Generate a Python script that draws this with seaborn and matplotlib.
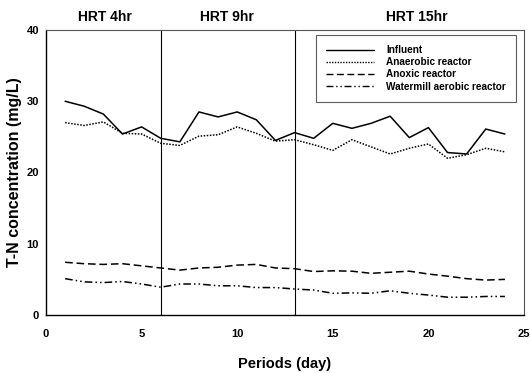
import numpy as np
import pandas as pd
import matplotlib
matplotlib.use("Agg")
import matplotlib.pyplot as plt
import seaborn as sns

days = list(range(1, 25))
influent = [30.0, 29.3, 28.2, 25.4, 26.4, 24.8, 24.3, 28.5, 27.8, 28.5, 27.4, 24.5,
            25.6, 24.8, 26.9, 26.2, 26.9, 27.9, 24.9, 26.3, 22.8, 22.6, 26.1, 25.4]
anaerobic = [27.0, 26.6, 27.1, 25.5, 25.4, 24.1, 23.8, 25.1, 25.3, 26.4, 25.5, 24.4,
             24.6, 23.9, 23.1, 24.6, 23.6, 22.6, 23.4, 24.0, 22.0, 22.5, 23.4, 22.9]
anoxic = [7.4, 7.2, 7.1, 7.2, 6.9, 6.6, 6.3, 6.6, 6.7, 7.0, 7.1, 6.6,
          6.5, 6.1, 6.2, 6.15, 5.85, 6.0, 6.15, 5.75, 5.45, 5.1, 4.9, 5.0]
watermill = [5.1, 4.65, 4.55, 4.7, 4.35, 3.9, 4.35, 4.35, 4.1, 4.1, 3.85, 3.85,
             3.65, 3.5, 3.05, 3.1, 3.05, 3.4, 3.05, 2.8, 2.5, 2.5, 2.6, 2.6]
series_names = ["Influent", "Anaerobic reactor", "Anoxic reactor", "Watermill aerobic reactor"]
phase_bounds = [6, 13]
phase_labels = ["HRT 4hr", "HRT 9hr", "HRT 15hr"]
phase_label_x = [3.1, 9.45, 19.4]

df = pd.DataFrame({
    "day": days * 4,
    "value": influent + anaerobic + anoxic + watermill,
    "series": sum([[n] * len(days) for n in series_names], []),
})

sns.set_style("white")
plt.rcParams["font.family"] = ["Liberation Sans", "DejaVu Sans"]
plt.rcParams["text.color"] = "black"
plt.rcParams["axes.labelcolor"] = "black"
plt.rcParams["xtick.color"] = "black"
plt.rcParams["ytick.color"] = "black"

fig = plt.figure(figsize=(5.30, 3.73), dpi=100)
ax = fig.add_axes([46 / 530, 1 - 315 / 373, (524 - 46) / 530, (315 - 30) / 373])

dashes = {
    "Influent": "",
    "Anaerobic reactor": (1, 1),
    "Anoxic reactor": (5, 2.5),
    "Watermill aerobic reactor": (5, 2, 1, 2, 1, 2),
}
sns.lineplot(data=df, x="day", y="value", hue="series", style="series",
             palette=["black"] * 4, dashes=dashes, ax=ax, linewidth=1.1,
             legend=False)

for b in phase_bounds:
    ax.axvline(b, color="black", linewidth=0.8)

ax.set_xlim(0, 25)
ax.set_ylim(0, 40)
ax.set_xticks([0, 5, 10, 15, 20, 25])
ax.set_yticks([0, 10, 20, 30, 40])
ax.tick_params(axis="both", direction="out", length=3, width=0.8, labelsize=8,
               colors="black", labelcolor="black", pad=2)
for lbl in ax.get_xticklabels() + ax.get_yticklabels():
    lbl.set_fontweight("bold")
ax.tick_params(axis="x", pad=7)

for side in ["left", "bottom"]:
    ax.spines[side].set_color("black")
    ax.spines[side].set_linewidth(1.0)
for side in ["top", "right"]:
    ax.spines[side].set_color("#555555")
    ax.spines[side].set_linewidth(0.8)
    ax.spines[side].set_linestyle((0, (2, 1)))

ax.set_xlabel("Periods (day)", fontsize=10.5, fontweight="bold", labelpad=13, color="black")
ax.set_ylabel("T-N concentration (mg/L)", fontsize=11.5, fontweight="bold", labelpad=3,
              color="black")

for lab, xp in zip(phase_labels, phase_label_x):
    ax.text(xp, 40.9, lab, ha="center", va="bottom", fontsize=10, fontweight="bold",
            color="black")

handles = []
for n in series_names:
    h, = ax.plot([], [], color="black", linewidth=1.0,
                 dashes=dashes[n] if dashes[n] else (None, None))
    handles.append(h)
leg = ax.legend(handles, series_names, loc="upper right", bbox_to_anchor=(0.993, 1.0),
                frameon=True, fancybox=False, handlelength=4.8,
                handletextpad=1.2, borderpad=1.0, labelspacing=0.22,
                prop={"weight": "bold", "size": 7.2})
for t in leg.get_texts():
    t.set_color("black")
leg.get_frame().set_edgecolor("#333333")
leg.get_frame().set_linewidth(0.8)

fig.savefig("out.png", dpi=100)
